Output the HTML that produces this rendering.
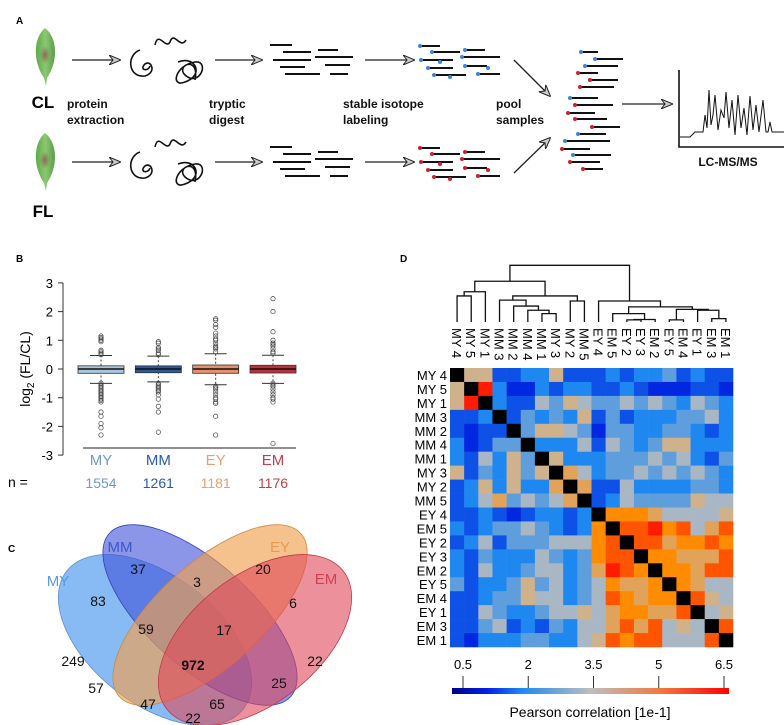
<!DOCTYPE html>
<html><head><meta charset="utf-8"><style>
html,body{margin:0;padding:0;background:#fff;overflow:hidden;}
svg{display:block;font-family:"Liberation Sans",Arial,sans-serif;}
</style></head><body>
<svg id="fig" width="784" height="725" viewBox="0 0 784 725">
<defs>
<linearGradient id="leafg" x1="0" y1="0" x2="1" y2="0"><stop offset="0" stop-color="#5fa84a"/><stop offset="0.5" stop-color="#8cc870"/><stop offset="1" stop-color="#5a9c48"/></linearGradient>
<radialGradient id="spot"><stop offset="0" stop-color="#8a6a5a"/><stop offset="1" stop-color="#8a6a5a" stop-opacity="0"/></radialGradient>
<linearGradient id="cbar" x1="0" y1="0" x2="1" y2="0">
<stop offset="0" stop-color="#00008b"/><stop offset="0.125" stop-color="#0020e0"/><stop offset="0.25" stop-color="#1e88f0"/><stop offset="0.5" stop-color="#bebebe"/><stop offset="0.75" stop-color="#f07a40"/><stop offset="1" stop-color="#ff0000"/></linearGradient>
<marker id="ah" markerWidth="12" markerHeight="10" refX="11" refY="5" orient="auto" markerUnits="userSpaceOnUse"><path d="M0,0 L12,5 L0,10 L4,5 Z" fill="#ccc" stroke="#222" stroke-width="1"/></marker>
</defs>

<g>
<text x="16" y="24" font-size="10" font-weight="bold">A</text>
<g><path d="M45,28 C58,38 58,62 47,78 L46,86 L44,78 C33,62 33,38 45,28 Z" fill="url(#leafg)"/><ellipse cx="45" cy="55" rx="5" ry="9" fill="url(#spot)"/></g>
<g><path d="M45,133 C58,143 58,167 47,183 L46,191 L44,183 C33,167 33,143 45,133 Z" fill="url(#leafg)"/><ellipse cx="45" cy="160" rx="5" ry="9" fill="url(#spot)"/></g>
<text x="43" y="108" font-size="17" font-weight="bold" text-anchor="middle">CL</text>
<text x="43" y="217" font-size="17" font-weight="bold" text-anchor="middle">FL</text>
<g font-size="12" font-weight="bold" fill="#111">
<text x="67" y="108">protein</text><text x="67" y="124">extraction</text>
<text x="209" y="108">tryptic</text><text x="209" y="124">digest</text>
<text x="343" y="108">stable isotope</text><text x="343" y="124">labeling</text>
<text x="496" y="108">pool</text><text x="496" y="124">samples</text>
<text x="728" y="166" text-anchor="middle">LC-MS/MS</text>
</g>
<g id="arrows" stroke="#222" stroke-width="1.3" fill="none">
<line x1="72" y1="60" x2="120" y2="60" marker-end="url(#ah)"/><line x1="72" y1="162" x2="120" y2="162" marker-end="url(#ah)"/>
<line x1="215" y1="60" x2="262" y2="60" marker-end="url(#ah)"/><line x1="215" y1="162" x2="262" y2="162" marker-end="url(#ah)"/>
<line x1="365" y1="60" x2="414" y2="60" marker-end="url(#ah)"/><line x1="365" y1="162" x2="414" y2="162" marker-end="url(#ah)"/>
<line x1="514" y1="60" x2="550" y2="96" marker-end="url(#ah)"/><line x1="514" y1="173" x2="550" y2="138" marker-end="url(#ah)"/>
<line x1="622" y1="104" x2="672" y2="104" marker-end="url(#ah)"/>
</g>
<g stroke="#111" stroke-width="1.6" fill="none">
<path d="M140,50 C126,55 128,78 145,76 C158,72 150,58 144,65 C140,70 148,72 150,66"/>
<path d="M155,45 C158,30 166,50 170,42 C174,30 180,50 186,40"/>
<path d="M178,62 C195,55 205,75 185,82 C170,88 175,65 195,62 C210,60 200,88 185,75 C175,65 200,55 195,80"/>
<path d="M140,152 C126,157 128,180 145,178 C158,174 150,160 144,167 C140,172 148,174 150,168"/>
<path d="M155,147 C158,132 166,152 170,144 C174,132 180,152 186,142"/>
<path d="M178,164 C195,157 205,177 185,184 C170,190 175,167 195,164 C210,162 200,190 185,177 C175,167 200,157 195,182"/>
</g>
<g id="peps" stroke="#111" stroke-width="2"></g>
<g fill="none" stroke="#111">
<polyline points="679,70 679,147 784,147" stroke-width="1.6"/>
<polyline points="680,137 690,137 695,132 703,132 705,115 707,128 709,90 711,125 713,115 715,95 718,130 721,110 724,118 726,92 729,128 732,100 735,135 738,95 741,128 744,108 747,135 750,96 753,130 756,105 759,132 763,100 766,132 768,132 770,122 772,132 784,132" stroke-width="1"/>
</g>
</g>

<g id="panelB">
<text x="16" y="262" font-size="10" font-weight="bold">B</text>
<text transform="translate(30,369) rotate(-90)" font-size="14" text-anchor="middle">log<tspan font-size="10" dy="4">2</tspan><tspan dy="-4"> (FL/CL)</tspan></text>
<text x="8" y="487" font-size="14">n =</text>
</g>

<g>
<text x="8" y="552" font-size="10" font-weight="bold">C</text>
<ellipse cx="155" cy="640" rx="112" ry="64" transform="rotate(38 155 640)" fill="#6aaaf0" fill-opacity="0.8" stroke="#5a90d0" stroke-width="0.8"/>
<ellipse cx="200" cy="615" rx="122" ry="52" transform="rotate(42 200 615)" fill="#4050d8" fill-opacity="0.6" stroke="#3040c0" stroke-width="0.8"/>
<ellipse cx="210" cy="615" rx="122" ry="52" transform="rotate(-42 210 615)" fill="#f0a050" fill-opacity="0.65" stroke="#d08840" stroke-width="0.8"/>
<ellipse cx="255" cy="640" rx="112" ry="64" transform="rotate(-38 255 640)" fill="#e04858" fill-opacity="0.6" stroke="#c03848" stroke-width="0.8"/>
<g font-size="14" fill="#111" text-anchor="middle">
<text x="138" y="574">37</text><text x="197" y="587">3</text><text x="263" y="574">20</text>
<text x="98" y="606">83</text><text x="293" y="608">6</text><text x="73" y="666">249</text>
<text x="146" y="634">59</text><text x="224" y="635">17</text><text x="315" y="666">22</text>
<text x="193" y="670" font-weight="bold">972</text><text x="96" y="693">57</text><text x="279" y="688">25</text>
<text x="148" y="709">47</text><text x="217" y="709">65</text><text x="193" y="723">22</text>
</g>
<g font-size="15" text-anchor="middle">
<text x="58" y="586" fill="#5a9ae0">MY</text><text x="120" y="552" fill="#3a58c8">MM</text>
<text x="280" y="552" fill="#e89a50">EY</text><text x="326" y="584" fill="#d04050">EM</text>
</g>
</g>

<g id="panelD">
<text x="400" y="262" font-size="10" font-weight="bold">D</text>
<rect x="452" y="688" width="277" height="6" fill="url(#cbar)"/>
<text x="590" y="717" font-size="14" text-anchor="middle">Pearson correlation [1e-1]</text>
</g>
</svg>
<script>
const groups = ["MY","MM","EY","EM"];
const counts = ["1554","1261","1181","1176"];
const q1 = [-0.15,-0.13,-0.15,-0.14];
const q3 = [0.11,0.11,0.14,0.13];
const med = [0.0,0.0,0.0,0.0];
const whLow = [-0.5,-0.45,-0.55,-0.5];
const whHigh = [0.47,0.45,0.53,0.48];
const outMY = [1.15,1.1,1.05,1.0,0.95,0.65,0.6,0.55,0.5,-0.5,-0.55,-0.6,-0.65,-0.7,-0.75,-0.8,-0.85,-0.9,-0.95,-1.0,-1.05,-1.1,-1.15,-1.5,-1.65,-1.9,-2.05,-2.3];
const outMM = [0.95,0.9,0.75,0.7,0.65,0.55,0.5,-0.5,-0.55,-0.6,-0.65,-0.7,-0.75,-0.8,-0.9,-1.05,-1.3,-1.5,-2.2];
const outEY = [1.75,1.7,1.55,1.45,1.25,1.15,1.05,1.0,0.9,0.8,0.75,0.7,0.6,-0.6,-0.65,-0.7,-0.8,-0.9,-1.0,-1.05,-1.15,-1.2,-1.65,-2.3];
const outEM = [2.45,2.0,1.3,1.0,0.9,0.85,0.8,0.7,0.6,0.55,-0.5,-0.55,-0.6,-0.7,-0.8,-0.9,-1.0,-1.05,-1.15,-2.6];
const yTicks = [3,2,1,0,-1,-2,-3];
const boxFill = ["#a9c6de","#2b5a96","#e8906c","#c0303a"];
const labelCol = ["#6c9ad0","#2a58b0","#e8a070","#c04048"];

const sampleLabels = ["MY 4","MY 5","MY 1","MM 3","MM 2","MM 4","MM 1","MY 3","MY 2","MM 5","EY 4","EM 5","EY 2","EY 3","EM 2","EY 5","EM 4","EY 1","EM 3","EM 1"];
const corr = [
[null,3.9,3.9,1.6,1.6,2.0,2.0,3.9,1.6,1.6,1.6,2.0,1.6,2.0,2.0,2.6,1.6,2.0,1.6,1.6],
[3.9,null,6.2,2.0,1.3,1.3,2.0,1.6,2.0,2.0,1.6,1.6,2.0,1.6,1.3,1.3,1.3,1.6,1.6,1.3],
[3.9,6.2,null,2.0,1.6,1.6,3.3,2.6,3.9,3.3,2.6,2.6,3.3,2.6,3.3,2.6,2.0,3.3,2.6,2.0],
[1.6,1.6,2.0,null,1.6,2.6,2.0,2.6,2.0,3.9,1.6,2.6,1.6,2.0,2.0,2.0,2.6,2.6,3.3,2.0],
[1.6,1.3,1.6,1.6,null,2.6,3.9,3.9,3.3,2.6,1.3,2.6,2.6,2.0,2.0,2.6,2.6,2.0,1.6,2.0],
[2.0,1.3,1.6,2.6,2.6,null,2.0,2.0,2.0,3.3,1.6,3.3,2.6,2.0,2.6,3.9,3.9,2.0,2.0,2.0],
[2.0,1.6,3.3,2.0,3.9,2.6,null,3.9,2.0,2.0,2.0,2.6,2.6,2.6,3.3,2.6,3.3,2.0,1.6,2.6],
[3.9,1.6,2.6,2.0,3.9,2.6,3.9,null,4.3,3.3,2.0,2.6,2.6,3.3,2.6,3.3,2.6,3.3,2.6,2.0],
[1.6,2.0,3.9,2.0,3.9,2.0,2.0,4.3,null,4.3,1.6,1.6,3.3,2.0,2.0,2.0,2.0,2.6,2.6,2.0],
[1.6,2.0,3.3,4.3,2.6,3.3,2.6,3.3,4.3,null,1.6,2.0,3.3,2.6,2.6,2.6,2.6,3.9,3.3,3.3],
[1.6,1.6,2.0,1.6,1.3,1.6,2.0,2.0,1.6,2.0,null,5.0,5.0,5.0,4.3,3.3,3.3,3.3,3.3,3.9],
[2.0,1.6,2.0,2.6,2.6,3.3,2.6,2.0,1.6,2.0,5.0,null,5.6,5.6,6.2,5.0,5.6,3.3,4.3,5.6],
[1.6,2.0,3.3,1.6,2.6,2.6,2.6,3.3,3.3,3.3,5.0,5.6,null,5.6,5.6,4.3,5.0,5.0,5.6,5.0],
[2.0,1.6,2.6,2.0,2.0,2.0,3.3,2.6,2.0,2.6,5.0,5.6,5.6,null,5.0,5.0,4.3,4.3,4.3,5.6],
[2.0,1.6,3.3,2.0,2.0,2.6,3.3,3.3,2.0,2.6,4.3,6.2,5.6,5.0,null,5.0,5.0,4.3,5.6,5.6],
[2.6,1.6,2.0,2.0,2.6,3.9,2.6,3.3,2.0,2.6,3.3,5.0,4.3,4.3,5.0,null,5.0,4.3,3.3,3.3],
[1.6,1.6,2.0,2.6,2.6,3.9,3.3,3.3,2.0,2.6,3.3,5.6,5.0,4.3,5.0,5.0,null,5.6,3.9,3.3],
[1.6,1.6,3.3,2.6,2.0,2.0,2.6,3.3,3.3,3.9,3.3,4.3,5.0,5.0,4.3,4.3,5.6,null,3.3,3.9],
[1.6,1.6,2.6,3.3,1.6,2.0,1.6,2.6,2.0,3.3,3.3,4.3,5.6,4.3,5.6,3.3,3.9,3.3,null,5.6],
[1.6,1.3,2.0,2.0,2.0,2.6,2.6,2.0,2.0,3.3,3.9,5.6,5.0,5.6,5.6,3.3,3.3,3.3,5.6,null]
];
const cbTicks = [0.5,2,3.5,5,6.5];
const merges = [
[0,1,0.62],[20,2,0.72],[6,7,0.2],[5,22,0.28],[4,23,0.38],[3,24,0.52],[8,9,0.5],[25,26,0.62],[21,27,0.97],
[12,13,0.05],[14,29,0.06],[11,30,0.2],[15,16,0.05],[18,19,0.08],[17,33,0.28],[32,34,0.3],[31,35,0.36],[10,36,0.5],[28,37,1.35]
];

const NS="http://www.w3.org/2000/svg";
function mk(tag,attrs,parent){const e=document.createElementNS(NS,tag);for(const k in attrs)e.setAttribute(k,attrs[k]);parent.appendChild(e);return e;}

(function(){
  const g=document.getElementById('peps');
  const frag=[[270,45,22],[283,52,28],[318,50,20],[273,60,38],[315,57,38],[280,67,25],[325,65,25],[285,74,35],[330,74,18]];
  [0,102].forEach(dy=>frag.forEach(f=>mk('line',{x1:f[0],y1:f[1]+dy,x2:f[0]+f[2],y2:f[1]+dy},g)));
  const lab=[[420,46,20,0],[432,52,28,0],[465,50,20,0],[421,60,32,440],[462,57,38,0],[428,68,25,0],[465,66,22,488],[434,75,32,450],[478,74,22,0]];
  [[0,'#3a86d8'],[102,'#d0202a']].forEach(([dy,c])=>lab.forEach(f=>{mk('line',{x1:f[0],y1:f[1]+dy,x2:f[0]+f[2],y2:f[1]+dy},g);mk('circle',{cx:f[0],cy:f[1]+dy,r:2,fill:c,stroke:'none'},g);if(f[3])mk('circle',{cx:f[3],cy:f[1]+dy+2,r:2,fill:c,stroke:'none'},g);}));
  const pool=[[581,52,17,'b'],[595,59,28,'b'],[585,66,33,'b'],[578,73,20,'r'],[590,80,28,'r'],[580,87,34,'r'],[570,98,28,'b'],[575,105,38,'r'],[568,113,27,'r'],[575,119,32,'r'],[592,127,28,'r'],[578,134,28,'b'],[565,141,45,'b'],[562,149,28,'r'],[573,155,38,'b'],[570,162,30,'r'],[583,169,20,'r']];
  pool.forEach(f=>{mk('line',{x1:f[0],y1:f[1],x2:f[0]+f[2],y2:f[1]},g);mk('circle',{cx:f[0],cy:f[1],r:2,fill:f[3]=='b'?'#3a86d8':'#d0202a',stroke:'none'},g);});
})();

(function(){
  const g=document.getElementById('panelB');
  const y=v=>369-v*28.7;
  const xs=[101,159,216,273];
  const x=i=>xs[0]+i*((xs[3]-xs[0])/3);
  const ax=mk('line',{x1:63,y1:y(3),x2:63,y2:y(-3),stroke:'#333','stroke-width':1},g);
  
  
  yTicks.forEach(t=>{
    mk('line',{x1:58,y1:y(t),x2:63,y2:y(t),stroke:'#333'},g);
    const tx=mk('text',{x:53,y:y(t)+5,'font-size':13,'text-anchor':'end'},g);tx.textContent=t;
    
    
  });
  const bl=mk('line',{x1:83,y1:448,x2:296,y2:448,stroke:'#222','stroke-width':1},g);
  
  
  const outs=[outMY,outMM,outEY,outEM];
  groups.forEach((gname,i)=>{
    const cx=x(i);
    const bg=mk('g',{},g);
    
    
    mk('line',{x1:cx,y1:y(whHigh[i]),x2:cx,y2:y(whLow[i]),stroke:'#444','stroke-dasharray':'2,2'},bg);
    mk('line',{x1:cx-11,y1:y(whHigh[i]),x2:cx+11,y2:y(whHigh[i]),stroke:'#333'},bg);
    mk('line',{x1:cx-11,y1:y(whLow[i]),x2:cx+11,y2:y(whLow[i]),stroke:'#333'},bg);
    mk('rect',{x:cx-23,y:y(q3[i]),width:46,height:y(q1[i])-y(q3[i]),fill:boxFill[i],stroke:'#333','stroke-width':0.8},bg);
    mk('line',{x1:cx-23,y1:y(med[i]),x2:cx+23,y2:y(med[i]),stroke:'#111','stroke-width':1.6},bg);
    outs[i].forEach(v=>{const c=mk('circle',{cx:cx,cy:y(v),r:2.2,fill:'none',stroke:'#444','stroke-width':0.7},bg);
      
      });
    const lt=mk('text',{x:cx,y:465,'font-size':15,'text-anchor':'middle',fill:labelCol[i]},g);lt.textContent=gname;
    
    
    const nt=mk('text',{x:cx,y:488,'font-size':14,'text-anchor':'middle',fill:labelCol[i]},g);nt.textContent=counts[i];
    
    
  });
})();

(function(){
  const g=document.getElementById('panelD');
  const X0=450,Y0=368,CW=14.15,CH=13.95;
  const stops=[[0.5,[0,0,139]],[1.25,[0,32,224]],[2,[30,136,240]],[3.5,[190,190,190]],[5,[255,140,0]],[6.5,[255,0,0]]];
  function col(v){
    if(v===null)return '#000';
    for(let k=0;k<stops.length-1;k++){const a=stops[k],b=stops[k+1];
      if(v<=b[0]||k==stops.length-2){const t=Math.max(0,Math.min(1,(v-a[0])/(b[0]-a[0])));
        return 'rgb('+a[1].map((c,j)=>Math.round(c+(b[1][j]-c)*t)).join(',')+')';}}
  }
  corr.forEach((row,r)=>{row.forEach((v,c)=>{
    const cell=mk('rect',{x:X0+c*CW,y:Y0+r*CH,width:CW+0.3,height:CH+0.3,fill:col(v)},g);
    
    
  });});
  sampleLabels.forEach((s,i)=>{
    const t=mk('text',{x:447,y:Y0+i*CH+CH/2+5,'font-size':13,'text-anchor':'end'},g);t.textContent=s;
    
    
    const cx=X0+(i+0.5)*CW;
    const ct=mk('text',{x:0,y:0,'font-size':13,transform:'translate('+(cx-5)+',328) rotate(90)'},g);ct.textContent=s;
    
    
  });
  const hy=h=>322-h*42;
  const pos=[],ht=[];
  sampleLabels.forEach((s,i)=>{pos[i]=X0+(i+0.5)*CW;ht[i]=0;});
  const dg=mk('g',{stroke:'#111','stroke-width':1.3,fill:'none'},g);
  
  
  merges.forEach((m,k)=>{
    const [a,b,h]=m;const id=20+k;
    mk('path',{d:'M'+pos[a]+','+hy(ht[a])+' V'+hy(h)+' H'+pos[b]+' V'+hy(ht[b])},dg);
    pos[id]=(pos[a]+pos[b])/2;ht[id]=h;
  });
  const cx=v=>463+(v-0.5)*(724-463)/6;
  cbTicks.forEach(t=>{
    mk('line',{x1:cx(t),y1:676,x2:cx(t),y2:688,stroke:'#333'},g);
    const tx=mk('text',{x:cx(t),y:669,'font-size':13,'text-anchor':'middle'},g);tx.textContent=t;
    
    
  });
})();
</script>
</body></html>
